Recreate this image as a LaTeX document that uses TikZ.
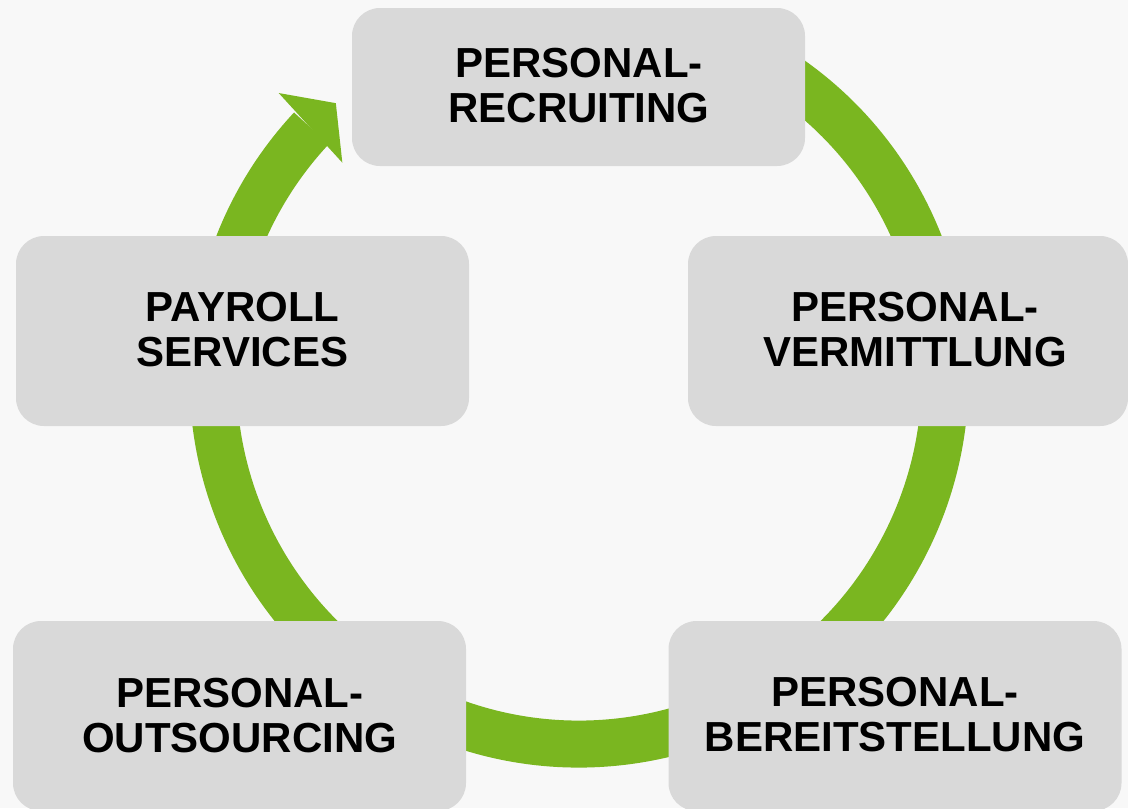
\documentclass[tikz,border=0pt]{standalone}
\usepackage{fontspec}
\setmainfont{Liberation Sans}
\definecolor{bgcol}{RGB}{248,248,248}
\definecolor{boxcol}{RGB}{217,217,217}
\definecolor{ringcol}{RGB}{122,182,32}
\tikzset{
  stepbox/.style={rectangle, rounded corners=21pt, fill=boxcol, draw=none,
    minimum width=339.75pt, minimum height=142.5pt, inner sep=0pt},
  lbl/.style={align=center, inner sep=0pt, text=black,
    font=\fontsize{31.5pt}{33.75pt}\selectfont\bfseries},
  ring/.style={draw=ringcol, line width=35.25pt, line cap=butt}
}
\begin{document}
\begin{tikzpicture}[x=0.75pt, y=-0.75pt]
\useasboundingbox (0,0) rectangle (1128,808);
\clip (0,0) rectangle (1128,808);
\fill[bgcol] (0,0) rectangle (1128,808);
\coordinate (c) at (579,378);
\begin{scope}[shift={(c)}]
  \draw[ring] (298:366) arc[start angle=298, end angle=583, radius=366];
  \fill[ringcol] (223.5:414) -- (228.5:367) -- (222.3:320) -- cycle;
\end{scope}
\node[stepbox, minimum height=118.5pt] (rec) at (578.5,87) {};
\node[lbl] (recT) at (579,85.5) {PERSONAL-\\RECRUITING};
\node[stepbox, minimum width=330pt] (verm) at (908,331) {};
\node[lbl] (vermT) at (915,329.5) {PERSONAL-\\VERMITTLUNG};
\node[stepbox] (pay) at (242.5,331) {};
\node[lbl] (payT) at (242.5,330) {PAYROLL\\SERVICES};
\node[stepbox] (out) at (239.5,716) {};
\node[lbl] (outT) at (239.7,716) {PERSONAL-\\OUTSOURCING};
\node[stepbox] (ber) at (895,716) {};
\node[lbl] (berT) at (895,714.5) {PERSONAL-\\BEREITSTELLUNG};
\end{tikzpicture}
\end{document}
